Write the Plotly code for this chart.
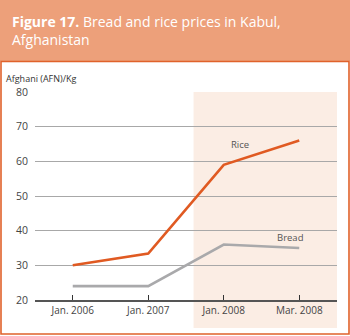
import plotly.graph_objects as go

categories = ["Jan. 2006", "Jan. 2007", "Jan. 2008", "Mar. 2008"]
rice = [30, 33.4, 59, 66]
bread = [24, 24, 36, 35]
y_ticks = [20, 30, 40, 50, 60, 70, 80]

W, H = 350, 336
L, R, T, B = 35, 13, 92, 36
pw, ph = W - L - R, H - T - B

def px(x):
    return (x - L) / pw

def py(y):
    return (H - B - y) / ph

FONT = "Open Sans"
fig = go.Figure()
xi = list(range(len(categories)))
fig.add_trace(go.Scatter(x=xi, y=bread, mode="lines",
                         line=dict(color="#A9A9AB", width=2.6), hoverinfo="skip"))
fig.add_trace(go.Scatter(x=xi, y=rice, mode="lines",
                         line=dict(color="#E05A22", width=2.6), hoverinfo="skip"))

SHADE = "#FBEDE4"
shapes = [
    # header band
    dict(type="rect", xref="paper", yref="paper", x0=px(0), x1=px(W), y0=py(61), y1=py(0),
         fillcolor="#EDA07A", line=dict(width=0), layer="below"),
    # border box
    dict(type="rect", xref="paper", yref="paper", x0=px(1), x1=px(349), y0=py(334), y1=py(61.5),
         fillcolor="rgba(0,0,0,0)", line=dict(color="#E0622B", width=1.6), layer="below"),
    # shaded region inside plot (under gridlines)
    dict(type="rect", xref="x", yref="y", x0=1.6, x1=3.5, y0=20, y1=80,
         fillcolor=SHADE, line=dict(width=0), layer="below"),
    # shaded region extension below axis
    dict(type="rect", xref="x", yref="paper", x0=1.6, x1=3.5, y0=py(328), y1=0,
         fillcolor=SHADE, line=dict(width=0), layer="below"),
]

annotations = [
    dict(text="<b>Figure 17.</b> Bread and rice prices in Kabul,<br>Afghanistan",
         xref="paper", yref="paper", x=px(10), y=py(31), xanchor="left", yanchor="middle",
         showarrow=False, align="left", font=dict(family=FONT, size=14, color="white")),
    dict(text="Afghani (AFN)/Kg", xref="paper", yref="paper", x=px(4), y=py(78),
         xanchor="left", yanchor="middle", showarrow=False,
         font=dict(family=FONT, size=9, color="#333")),
    dict(text="Rice", x=2.22, y=65, xref="x", yref="y", showarrow=False,
         font=dict(family=FONT, size=9.5, color="#555")),
    dict(text="Bread", x=2.88, y=38, xref="x", yref="y", showarrow=False,
         font=dict(family=FONT, size=9.5, color="#555")),
]

fig.update_layout(
    width=W, height=H, margin=dict(l=L, r=R, t=T, b=B),
    paper_bgcolor="white", plot_bgcolor="rgba(0,0,0,0)",
    showlegend=False, shapes=shapes, annotations=annotations,
    font=dict(family=FONT, color="#444"),
    xaxis=dict(range=[-0.5, 3.5], tickvals=xi, ticktext=categories, showgrid=False,
               zeroline=False, showline=True, linecolor="#555", linewidth=1.6,
               ticks="inside", ticklen=5, tickcolor="#333", tickwidth=1,
               tickfont=dict(size=10, color="#444")),
    yaxis=dict(range=[20, 80], tickvals=y_ticks, showgrid=True, gridcolor="#A8A8A8",
               gridwidth=1, zeroline=False, showline=False, ticks="", ticklabelstandoff=6,
               tickfont=dict(size=10.5, color="#444")),
)

fig.write_html("out.html")
